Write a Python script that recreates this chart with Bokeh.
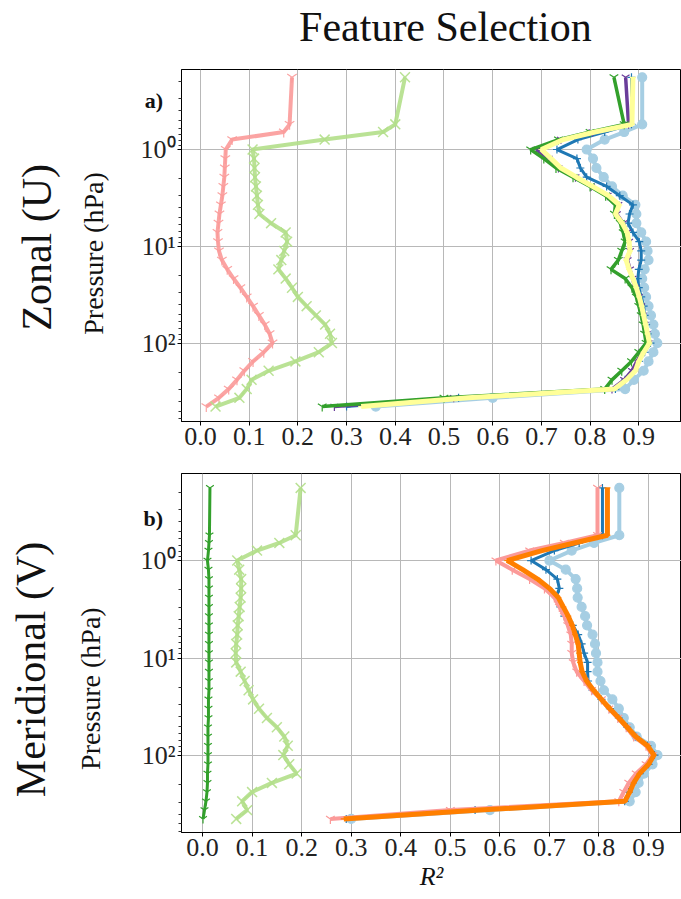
from math import pi
from bokeh.plotting import figure
from bokeh.models import Range1d, FixedTicker, Label, ColumnDataSource
from bokeh.layouts import column
from bokeh.embed import file_html
from bokeh.resources import INLINE

# ---------------- data ----------------
levels = [0.18, 0.55, 0.66, 0.79, 1.0, 1.24, 1.55, 1.93, 2.40, 2.99, 3.72, 4.62, 5.75,
          7.16, 8.91, 11.1, 13.8, 17.2, 21.4, 26.6, 33.1, 41.2, 51.3, 63.8, 79.4, 98.9,
          123, 153, 191, 237, 295, 363, 447]

# Zonal (U)
u_pink = [0.188, 0.183, 0.171, 0.065, 0.052, 0.051, 0.050, 0.049, 0.047, 0.045, 0.042,
          0.039, 0.037, 0.035, 0.036, 0.038, 0.044, 0.055, 0.068, 0.082, 0.095, 0.108,
          0.120, 0.132, 0.142, 0.148, 0.130, 0.108, 0.090, 0.075, 0.058, 0.038, 0.012]
u_lgreen = [0.420, 0.400, 0.375, 0.255, 0.107, 0.110, 0.111, 0.112, 0.114, 0.116, 0.118,
            0.121, 0.145, 0.175, 0.178, 0.172, 0.166, 0.160, 0.175, 0.188, 0.200, 0.218,
            0.237, 0.256, 0.266, 0.270, 0.243, 0.195, 0.140, 0.105, 0.095, 0.080, 0.031]
u_green = [0.849, 0.870, 0.800, 0.735, 0.678, 0.705, 0.730, 0.765, 0.800, 0.832, 0.852,
           0.850, 0.862, 0.868, 0.872, 0.865, 0.858, 0.843, 0.872, 0.886, 0.895, 0.900,
           0.905, 0.909, 0.912, 0.915, 0.900, 0.885, 0.865, 0.845, 0.830, 0.500, 0.250]
u_purple = [0.873, 0.879, 0.805, 0.740, 0.690, 0.715, 0.735, 0.770, 0.802, 0.836, 0.858,
            0.855, 0.868, 0.876, 0.880, 0.882, 0.877, 0.882, 0.887, 0.893, 0.900, 0.905,
            0.908, 0.912, 0.916, 0.920, 0.907, 0.896, 0.886, 0.870, 0.845, 0.520, 0.275]
u_yellow = [0.888, 0.886, 0.810, 0.745, 0.700, 0.720, 0.740, 0.772, 0.805, 0.838, 0.860,
            0.852, 0.866, 0.876, 0.880, 0.882, 0.874, 0.880, 0.888, 0.895, 0.901, 0.906,
            0.910, 0.914, 0.918, 0.922, 0.910, 0.900, 0.893, 0.875, 0.850, 0.550, 0.330]
u_blue = [0.885, 0.885, 0.830, 0.775, 0.732, 0.773, 0.780, 0.793, 0.834, 0.861, 0.888,
          0.881, 0.878, 0.888, 0.901, 0.905, 0.905, 0.900, 0.898, 0.900, 0.905, 0.910,
          0.912, 0.915, 0.918, 0.924, 0.912, 0.900, 0.890, 0.872, 0.852, 0.530, 0.300]
u_lblue = [0.907, 0.907, 0.870, 0.830, 0.793, 0.806, 0.813, 0.828, 0.845, 0.867, 0.893,
           0.895, 0.895, 0.905, 0.915, 0.918, 0.920, 0.912, 0.907, 0.911, 0.915, 0.920,
           0.925, 0.930, 0.933, 0.938, 0.930, 0.920, 0.910, 0.890, 0.872, 0.600, 0.360]

# Meridional (V)
v_green = [0.015, 0.014, 0.013, 0.012, 0.010, 0.012, 0.013, 0.013, 0.013, 0.013, 0.013,
           0.013, 0.013, 0.013, 0.013, 0.013, 0.013, 0.013, 0.013, 0.012, 0.012, 0.012,
           0.011, 0.011, 0.011, 0.011, 0.011, 0.010, 0.010, 0.009, 0.007, 0.004, 0.001]
v_lgreen = [0.198, 0.188, 0.155, 0.110, 0.070, 0.074, 0.078, 0.078, 0.077, 0.075, 0.073,
            0.071, 0.070, 0.068, 0.067, 0.068, 0.077, 0.085, 0.093, 0.102, 0.114, 0.130,
            0.150, 0.165, 0.172, 0.163, 0.175, 0.190, 0.140, 0.100, 0.080, 0.090, 0.068]
v_lblue = [0.841, 0.841, 0.790, 0.745, 0.700, 0.733, 0.753, 0.756, 0.757, 0.765, 0.772,
           0.776, 0.787, 0.792, 0.794, 0.797, 0.797, 0.803, 0.810, 0.827, 0.840, 0.850,
           0.862, 0.876, 0.905, 0.918, 0.908, 0.891, 0.880, 0.874, 0.862, 0.580, 0.300]
v_blue = [0.807, 0.807, 0.760, 0.710, 0.663, 0.693, 0.716, 0.720, 0.713, 0.722, 0.730,
          0.747, 0.758, 0.765, 0.770, 0.777, 0.777, 0.778, 0.787, 0.805, 0.822, 0.840,
          0.857, 0.874, 0.898, 0.912, 0.900, 0.882, 0.868, 0.860, 0.852, 0.550, 0.290]
v_pink = [0.797, 0.797, 0.730, 0.660, 0.592, 0.625, 0.660, 0.690, 0.710, 0.720, 0.730,
          0.737, 0.743, 0.745, 0.745, 0.748, 0.755, 0.770, 0.785, 0.805, 0.820, 0.838,
          0.855, 0.870, 0.895, 0.908, 0.895, 0.875, 0.860, 0.850, 0.840, 0.500, 0.258]
v_orange = [0.817, 0.817, 0.750, 0.685, 0.615, 0.646, 0.676, 0.700, 0.718, 0.728, 0.738,
            0.746, 0.752, 0.758, 0.760, 0.762, 0.766, 0.775, 0.789, 0.805, 0.822, 0.840,
            0.857, 0.874, 0.898, 0.911, 0.900, 0.882, 0.870, 0.862, 0.852, 0.560, 0.285]

x_ticks = [0.0, 0.1, 0.2, 0.3, 0.4, 0.5, 0.6, 0.7, 0.8, 0.9]
y_ticks = [1, 10, 100]
y_tick_labels = {1: "10\u2070", 10: "10\u00b9", 100: "10\u00b2"}

# Paired palette colours
C_LBLUE, C_BLUE, C_LGREEN, C_GREEN = "#a6cee3", "#1f78b4", "#b2df8a", "#33a02c"
C_PINK, C_ORANGE, C_PURPLE, C_YELLOW = "#fb9a99", "#ff7f00", "#6a3d9a", "#ffff99"

SERIF = "Liberation Serif"
INK = "#111111"


def make_fig(height, border_left, border_top, border_bottom, x_start, x_end, y_bot, y_top):
    p = figure(width=681, height=height, output_backend="svg", toolbar_location=None,
               y_axis_type="log",
               x_range=Range1d(x_start, x_end), y_range=Range1d(y_bot, y_top),
               min_border_left=border_left, min_border_right=0,
               min_border_top=border_top, min_border_bottom=border_bottom)
    p.outline_line_color = "black"
    p.outline_line_width = 1
    p.xaxis.ticker = FixedTicker(ticks=x_ticks)
    p.xaxis.major_label_overrides = {t: f"{t:.1f}" for t in x_ticks}
    minor = [m * 10 ** k for k in (-1, 0, 1, 2) for m in range(2, 10)]
    p.yaxis.ticker = FixedTicker(ticks=y_ticks, minor_ticks=minor)
    p.yaxis.major_label_overrides = y_tick_labels
    for ax in (p.xaxis, p.yaxis):
        ax.major_label_text_font = SERIF
        ax.major_label_text_font_size = "26px"
        ax.major_label_text_color = "#222222"
        ax.axis_line_color = "black"
        ax.major_tick_line_color = "black"
        ax.major_tick_out = 4
        ax.major_tick_in = 0
    p.xaxis.minor_tick_line_color = None
    p.xaxis.major_label_standoff = 2
    p.yaxis.minor_tick_line_color = "#333333"
    p.yaxis.minor_tick_out = 3
    p.yaxis.minor_tick_in = 0
    p.yaxis.major_label_standoff = 2
    p.xgrid.grid_line_color = "#b8b8b8"
    p.ygrid.grid_line_color = "#b8b8b8"
    return p


def series(p, xs, color, lw, marker, msize, mlw=1.2, alpha=1.0, fill=False):
    src = ColumnDataSource(dict(x=xs, y=levels))
    p.line("x", "y", source=src, line_color=color, line_width=lw, line_alpha=alpha)
    if marker:
        p.scatter("x", "y", source=src, marker=marker, size=msize, line_color=color,
                  line_width=mlw, fill_color=color if fill else None, line_alpha=alpha,
                  fill_alpha=alpha)


def side_label(p, side, x, y, text, size, angle=0.0, align="center", baseline="middle",
               style="normal"):
    p.add_layout(Label(x=x, y=y, text=text, text_font=SERIF, text_font_size=size,
                       text_font_style=style, angle=angle, text_align=align,
                       text_baseline=baseline, text_color=INK), side)


# ---------------- panel a ----------------
pa = make_fig(height=460, border_left=179, border_top=69, border_bottom=39,
              x_start=-0.0389, x_end=0.9877, y_bot=637, y_top=0.1496)
series(pa, u_lblue, C_LBLUE, 4, "circle", 9, fill=True)
series(pa, u_blue, C_BLUE, 3, "cross", 8)
series(pa, u_purple, C_PURPLE, 3.5, "y", 9)
series(pa, u_green, C_GREEN, 3.5, "y", 10)
series(pa, u_yellow, C_YELLOW, 5, "dash", 6)
series(pa, u_pink, C_PINK, 4, "y", 11, alpha=0.9)
series(pa, u_lgreen, C_LGREEN, 4, "x", 14, mlw=1.5, alpha=0.9)

side_label(pa, "above", 0.503, 0.0545, "Feature Selection", "42px")
side_label(pa, "left", -0.1145, 0.3126, "a)", "22px", align="left", baseline="alphabetic",
           style="bold")
side_label(pa, "left", -0.219, 11.8, "Pressure (hPa)", "28px", angle=pi / 2)
side_label(pa, "left", -0.335, 10.2, "Zonal (U)", "42px", angle=pi / 2)

# ---------------- panel b ----------------
pb = make_fig(height=438, border_left=181, border_top=13, border_bottom=66,
              x_start=-0.0424, x_end=0.9665, y_bot=616, y_top=0.128)
series(pb, v_lblue, C_LBLUE, 4, "circle", 9, fill=True)
series(pb, v_blue, C_BLUE, 3, "cross", 8)
series(pb, v_pink, C_PINK, 4, "y", 10)
series(pb, v_orange, C_ORANGE, 5, "dash", 6)
series(pb, v_green, C_GREEN, 3, "y", 9)
series(pb, v_lgreen, C_LGREEN, 4, "x", 14, mlw=1.5, alpha=0.9)

pb.xaxis.axis_label = "R\u00b2"
pb.xaxis.axis_label_text_font = SERIF
pb.xaxis.axis_label_text_font_size = "26px"
pb.xaxis.axis_label_text_font_style = "italic"
pb.xaxis.axis_label_text_color = INK
pb.xaxis.axis_label_standoff = 3

side_label(pb, "left", -0.119, 0.371, "b)", "22px", align="left", baseline="alphabetic",
           style="bold")
side_label(pb, "left", -0.226, 20.6, "Pressure (hPa)", "28px", angle=pi / 2)
side_label(pb, "left", -0.347, 13.1, "Meridional (V)", "42px", angle=pi / 2)

layout = column(pa, pb, spacing=0)
open("out.html", "w").write(file_html(layout, INLINE))
